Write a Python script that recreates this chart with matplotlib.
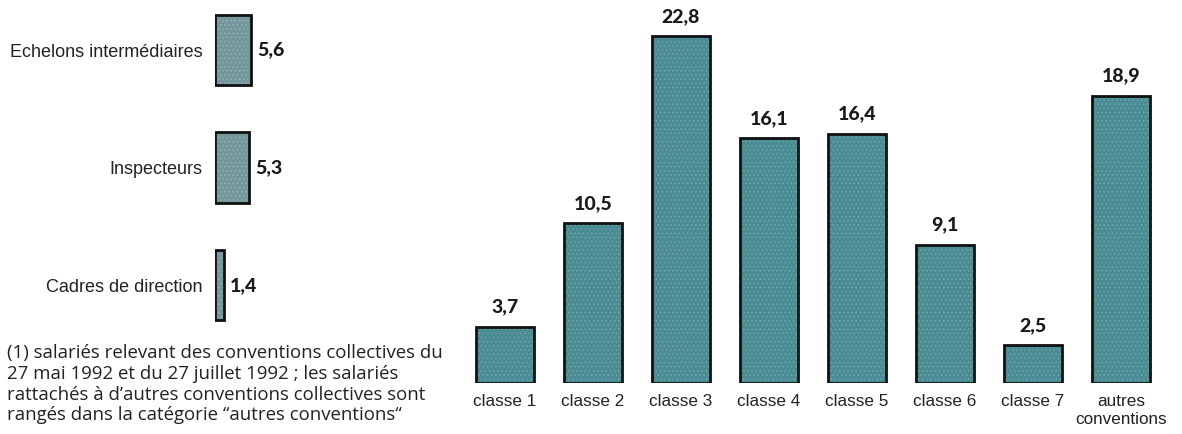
import matplotlib
matplotlib.use('Agg')
import matplotlib.pyplot as plt

# left panel: categories of employees
cadres_labels = ['Cadres de direction', 'Inspecteurs', 'Echelons intermédiaires']
cadres_values = [1.4, 5.3, 5.6]

# right panel: classes
classes = ['classe 1', 'classe 2', 'classe 3', 'classe 4', 'classe 5',
           'classe 6', 'classe 7', 'autres\nconventions']
class_values = [3.7, 10.5, 22.8, 16.1, 16.4, 9.1, 2.5, 18.9]

note = ("(1) salariés relevant des conventions collectives du\n"
        "27 mai 1992 et du 27 juillet 1992 ; les salariés\n"
        "rattachés à d’autres conventions collectives sont\n"
        "rangés dans la catégorie “autres conventions“")

W, H = 1182, 434
fig = plt.figure(figsize=(W / 100, H / 100), dpi=100)

label_font = 'Liberation Sans'
value_font = ['Lato', 'DejaVu Sans']
plt.rcParams['hatch.linewidth'] = 0.6


def fig_axes(x0, y0_top, w, h):
    # pixel box (top-left origin) -> figure fraction
    return fig.add_axes([x0 / W, (H - y0_top - h) / H, w / W, h / H])


def fmt(v):
    return f'{v:.1f}'.replace('.', ',')


# ---- left panel ----
axl = fig_axes(215, 3, 80, 341)
ys = range(len(cadres_values))
axl.barh(ys, cadres_values, height=0.6, color='#73979b', linewidth=0)
axl.barh(ys, cadres_values, height=0.6, fill=False, hatch='....', edgecolor='#93b2b4', linewidth=0)
axl.barh(ys, cadres_values, height=0.6, fill=False, edgecolor='#111111', linewidth=2)
axl.set_xlim(0, 80 / 6.5)
axl.set_ylim(-0.5, 2.4)
axl.set_yticks(list(ys))
axl.set_yticklabels(cadres_labels, fontsize=13, family=label_font, color='#222222')
axl.tick_params(axis='y', length=0, pad=9)
axl.set_xticks([])
for s in axl.spines.values():
    s.set_visible(False)
for y, v in zip(ys, cadres_values):
    axl.annotate(fmt(v), (v, y), xytext=(4, 0), textcoords='offset points',
                 ha='left', va='center', fontsize=14, fontweight='black',
                 family=value_font, color='#1a1a1a')

fig.text(7 / W, 1 - 344 / H, note, ha='left', va='top', fontsize=13.4,
         family=['Open Sans', 'DejaVu Sans'], color='#222222', linespacing=1.2)

# ---- right panel ----
axr = fig_axes(461, 3, 704, 380)
xs = range(len(class_values))
axr.bar(xs, class_values, width=0.66, color='#4a8b94', linewidth=0)
axr.bar(xs, class_values, width=0.66, fill=False, hatch='....', edgecolor='#70a4a9', linewidth=0)
axr.bar(xs, class_values, width=0.66, fill=False, edgecolor='#111111', linewidth=2)
axr.set_xlim(-0.5, 7.5)
axr.set_ylim(0, 25)
axr.set_xticks(list(xs))
axr.set_xticklabels(classes, fontsize=12.3, family=label_font, color='#222222', va='top')
axr.tick_params(axis='x', length=0, pad=8)
axr.set_yticks([])
for s in axr.spines.values():
    s.set_visible(False)
for x, v in zip(xs, class_values):
    axr.annotate(fmt(v), (x, v), xytext=(0, 8), textcoords='offset points',
                 ha='center', va='bottom', fontsize=14, fontweight='black',
                 family=value_font, color='#1a1a1a')

fig.savefig('out.png', dpi=100)
